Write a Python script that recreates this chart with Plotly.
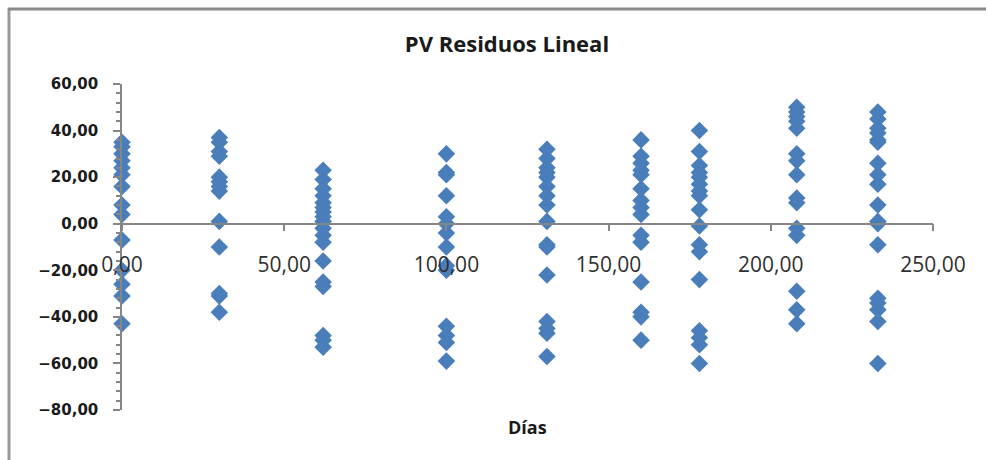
import plotly.graph_objects as go

# Días de muestreo y residuos del modelo lineal en cada uno
dias = [0, 30, 62, 100, 131, 160, 178, 208, 233]

res_d0 = [35, 33, 30, 27, 24, 21, 16, 8, 4, -7, -20, -26, -31, -43]
res_d30 = [37, 35, 31, 29, 20, 18, 16, 14, 1, -10, -30, -31, -38]
res_d62 = [23, 19, 15, 12, 9, 7, 5, 3, 1, -2, -5, -8, -16, -25, -27, -48, -50, -53]
res_d100 = [30, 22, 21, 12, 3, 0, -4, -10, -18, -20, -44, -48, -51, -59]
res_d131 = [32, 28, 24, 22, 20, 16, 12, 8, 1, -9, -10, -22, -42, -45, -47, -57]
res_d160 = [36, 29, 26, 23, 21, 15, 10, 7, 4, -5, -8, -25, -38, -40, -50]
res_d178 = [40, 31, 25, 22, 20, 17, 14, 12, 6, -1, -9, -12, -24, -46, -49, -52, -60]
res_d208 = [50, 48, 46, 44, 41, 30, 27, 21, 11, 9, -2, -5, -29, -37, -43]
res_d233 = [48, 45, 41, 39, 36, 35, 26, 21, 17, 8, 1, 0, -9, -32, -34, -37, -42, -60]

residuos = [res_d0, res_d30, res_d62, res_d100, res_d131,
            res_d160, res_d178, res_d208, res_d233]

x_vals, y_vals = [], []
for d, grupo in zip(dias, residuos):
    x_vals.extend([d] * len(grupo))
    y_vals.extend(grupo)

W, H = 987, 460
ML, MR, MT, MB = 122, 54, 84, 50
pw, ph = W - ML - MR, H - MT - MB

def px_x(px):
    return (px - ML) / pw

def px_y(py):
    return (H - MB - py) / ph

y_min, y_max = -80, 60
axis_gray = "#868686"
text_col = "#1a1a1a"

fig = go.Figure(go.Scatter(
    x=x_vals, y=y_vals, mode="markers", cliponaxis=False,
    marker=dict(symbol="diamond", size=13.5, color="#4A7EBB", line=dict(width=0)),
    showlegend=False, hoverinfo="x+y",
))

fig.update_layout(
    width=W, height=H,
    margin=dict(l=ML, r=MR, t=MT, b=MB),
    paper_bgcolor="white", plot_bgcolor="white",
    separators=",.",
    title=dict(text="<b>PV Residuos Lineal</b>", x=px_x(507), xref="paper",
               xanchor="center", y=1 - 44 / H, yanchor="middle",
               font=dict(family="Open Sans", size=22, color=text_col)),
    xaxis=dict(
        range=[0, 250], dtick=50, tick0=0, tickformat=".2f",
        anchor="free", position=(0 - y_min) / (y_max - y_min),
        showline=True, linecolor=axis_gray, linewidth=1.5,
        ticks="outside", ticklen=7, tickcolor=axis_gray, tickwidth=1.5,
        ticklabelstandoff=15,
        showgrid=False, zeroline=False,
        tickfont=dict(family="Open Sans", size=21, color="#303030"),
    ),
    yaxis=dict(
        range=[y_min, y_max], dtick=20, tick0=0, tickformat=".2f",
        showline=True, linecolor=axis_gray, linewidth=1.5,
        ticks="outside", ticklen=7, tickcolor=axis_gray, tickwidth=1.5,
        ticklabelstandoff=12,
        minor=dict(dtick=4, ticks="outside", ticklen=4, tickcolor=axis_gray),
        showgrid=False, zeroline=False,
        tickfont=dict(family="DejaVu Sans", size=15, color=text_col, weight="bold"),
    ),
    annotations=[dict(
        text="<b>Días</b>", xref="paper", yref="paper",
        x=px_x(527), y=px_y(427), xanchor="center", yanchor="middle",
        showarrow=False, font=dict(family="Open Sans", size=18, color=text_col),
    )],
    shapes=[
        dict(type="line", xref="paper", yref="paper",
             x0=px_x(9), x1=px_x(9), y0=px_y(8), y1=px_y(470),
             line=dict(color="#9a9a9a", width=3)),
        dict(type="line", xref="paper", yref="paper",
             x0=px_x(8), x1=px_x(W - 1), y0=px_y(9), y1=px_y(9),
             line=dict(color="#8a8a8a", width=3)),
    ],
)

fig.write_html("out.html")
